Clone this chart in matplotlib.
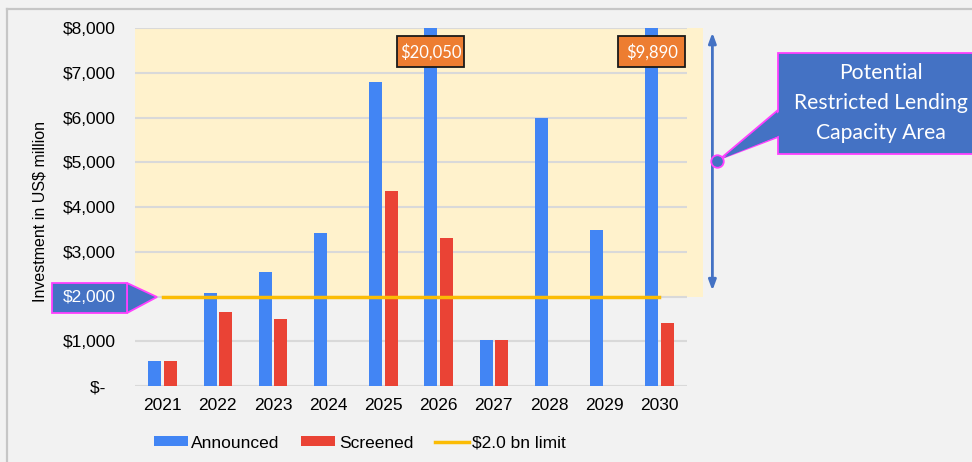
import matplotlib
matplotlib.use("Agg")
import matplotlib.pyplot as plt
import numpy as np
from matplotlib.patches import Polygon, Rectangle
from matplotlib.lines import Line2D

years = ["2021", "2022", "2023", "2024", "2025", "2026", "2027", "2028", "2029", "2030"]
announced = [560, 2085, 2555, 3410, 6795, 20050, 1030, 5990, 3475, 9890]
screened = [560, 1660, 1500, 0, 4350, 3300, 1030, 0, 0, 1410]
limit = 2000
yticks = [0, 1000, 2000, 3000, 4000, 5000, 6000, 7000, 8000]
ytick_labels = ["$-  ", "$1,000", "$2,000", "$3,000", "$4,000", "$5,000", "$6,000", "$7,000", "$8,000"]
overflow_labels = {5: "$20,050", 9: "$9,890"}

W, H = 972, 462
BG = "#f2f2f2"
BLUE = "#4285f4"
RED = "#ea4335"
YEL = "#fbbc04"
CALLOUT = "#4472c4"
MAG = "#ff40ff"

plt.rcParams["font.family"] = ["Liberation Sans", "DejaVu Sans"]

fig = plt.figure(figsize=(W / 100, H / 100), dpi=100)
fig.patch.set_facecolor(BG)


def px(x, y):
    return (x / W, 1 - y / H)


ax = fig.add_axes([135 / W, 1 - 386 / H, 552 / W, 358 / H])
ax.set_facecolor("none")
x = np.arange(len(years))
bw = 0.235
off = 0.14

ax.set_xlim(-0.5, len(years) - 0.5)
ax.set_ylim(0, 8000)
ppx = 552 / len(years)      # pixels per category
ppy = 358 / 8000            # pixels per unit

# shaded restricted area
ax.add_patch(Rectangle((-0.5, limit), len(years) + 0.29, 8000 - limit,
                       facecolor="#fff2cc", edgecolor="none", zorder=0.3, clip_on=False))

for yv in yticks:
    ax.axhline(yv, color="#d9d9d9", lw=1.5, zorder=1)

ax.bar(x - off, announced, width=bw, color=BLUE, zorder=2, label="Announced")
ax.bar(x + off, screened, width=bw, color=RED, zorder=2, label="Screened")
ax.plot([x[0], x[-1]], [limit, limit], color=YEL, lw=2.5, zorder=3, label="$2.0 bn limit")

bwid, bhei = 67 / ppx, 31 / ppy
for i, lab in overflow_labels.items():
    cx, cy = x[i] - off, 7470
    ax.add_patch(Rectangle((cx - bwid / 2, cy - bhei / 2), bwid, bhei, facecolor="#ed7d31",
                           edgecolor="#1a1a1a", lw=1.3, zorder=5, clip_on=False))
    ax.text(cx, cy, lab, ha="center", va="center", color="white",
            family=["Lato", "DejaVu Sans"], fontsize=12, zorder=6)

for s in ax.spines.values():
    s.set_visible(False)
ax.set_yticks(yticks)
ax.set_yticklabels(ytick_labels)
ax.set_xticks(x)
ax.set_xticklabels(years)
ax.tick_params(axis="both", length=0, labelsize=12.5, colors="#000000")
ax.tick_params(axis="y", pad=14)
ax.tick_params(axis="x", pad=9)

# double arrow
ax.annotate("", xy=(9.96, 7960), xytext=(9.96, 2070),
            arrowprops=dict(arrowstyle="<|-|>,head_length=0.6,head_width=0.22", color=CALLOUT, lw=2),
            annotation_clip=False)

fig.text(*px(40, 212), "Investment in US$ million", rotation=90, ha="center", va="center",
         fontsize=11.5, color="#000000")

# $2,000 callout
fig.add_artist(Polygon([px(127, 283), px(157, 297), px(127, 313)], closed=True,
                       facecolor=CALLOUT, edgecolor=MAG, lw=1.3, transform=fig.transFigure))
fig.add_artist(Rectangle(px(52, 313), 75 / W, 30 / H, facecolor=CALLOUT, edgecolor=MAG, lw=1.3,
                         transform=fig.transFigure))
fig.text(*px(89, 298), "$2,000", ha="center", va="center", color="white", fontsize=12.5)

# right callout
fig.add_artist(Polygon([px(778, 110), px(720, 159), px(778, 137)], closed=True,
                       facecolor=CALLOUT, edgecolor=MAG, lw=1.3, transform=fig.transFigure))
fig.add_artist(Rectangle(px(778, 154), 200 / W, 101 / H, facecolor=CALLOUT, edgecolor=MAG, lw=1.3,
                         transform=fig.transFigure))
fig.add_artist(Polygon([px(779.5, 111.5), px(724, 158), px(779.5, 135.5)], closed=True,
                       facecolor=CALLOUT, edgecolor="none", transform=fig.transFigure))
fig.add_artist(Line2D([717 / W], [1 - 161 / H], marker="o", ms=9, markerfacecolor=CALLOUT,
                      markeredgecolor=MAG, mew=1.3, transform=fig.transFigure))
fig.text(*px(881, 103), "Potential\nRestricted Lending\nCapacity Area", ha="center", va="center",
         color="white", family=["Lato", "DejaVu Sans"], fontsize=15.2, linespacing=1.62)

# frame lines
fig.add_artist(Line2D([7 / W, 1], [1 - 8.5 / H, 1 - 8.5 / H], color="#c6c6c6", lw=1.6,
                      transform=fig.transFigure))
fig.add_artist(Line2D([7 / W, 7 / W], [0, 1 - 8.5 / H], color="#c6c6c6", lw=1.6,
                      transform=fig.transFigure))

handles, labels = ax.get_legend_handles_labels()
order = [labels.index("Announced"), labels.index("Screened"), labels.index("$2.0 bn limit")]
fig.legend([handles[k] for k in order], [labels[k] for k in order], loc="center",
           bbox_to_anchor=px(360, 443), ncol=3, frameon=False,
           fontsize=12.5, handlelength=1.95, handleheight=0.5, handletextpad=0.2,
           columnspacing=1.25, borderpad=0)

fig.savefig("out.png", dpi=100, facecolor=BG)
